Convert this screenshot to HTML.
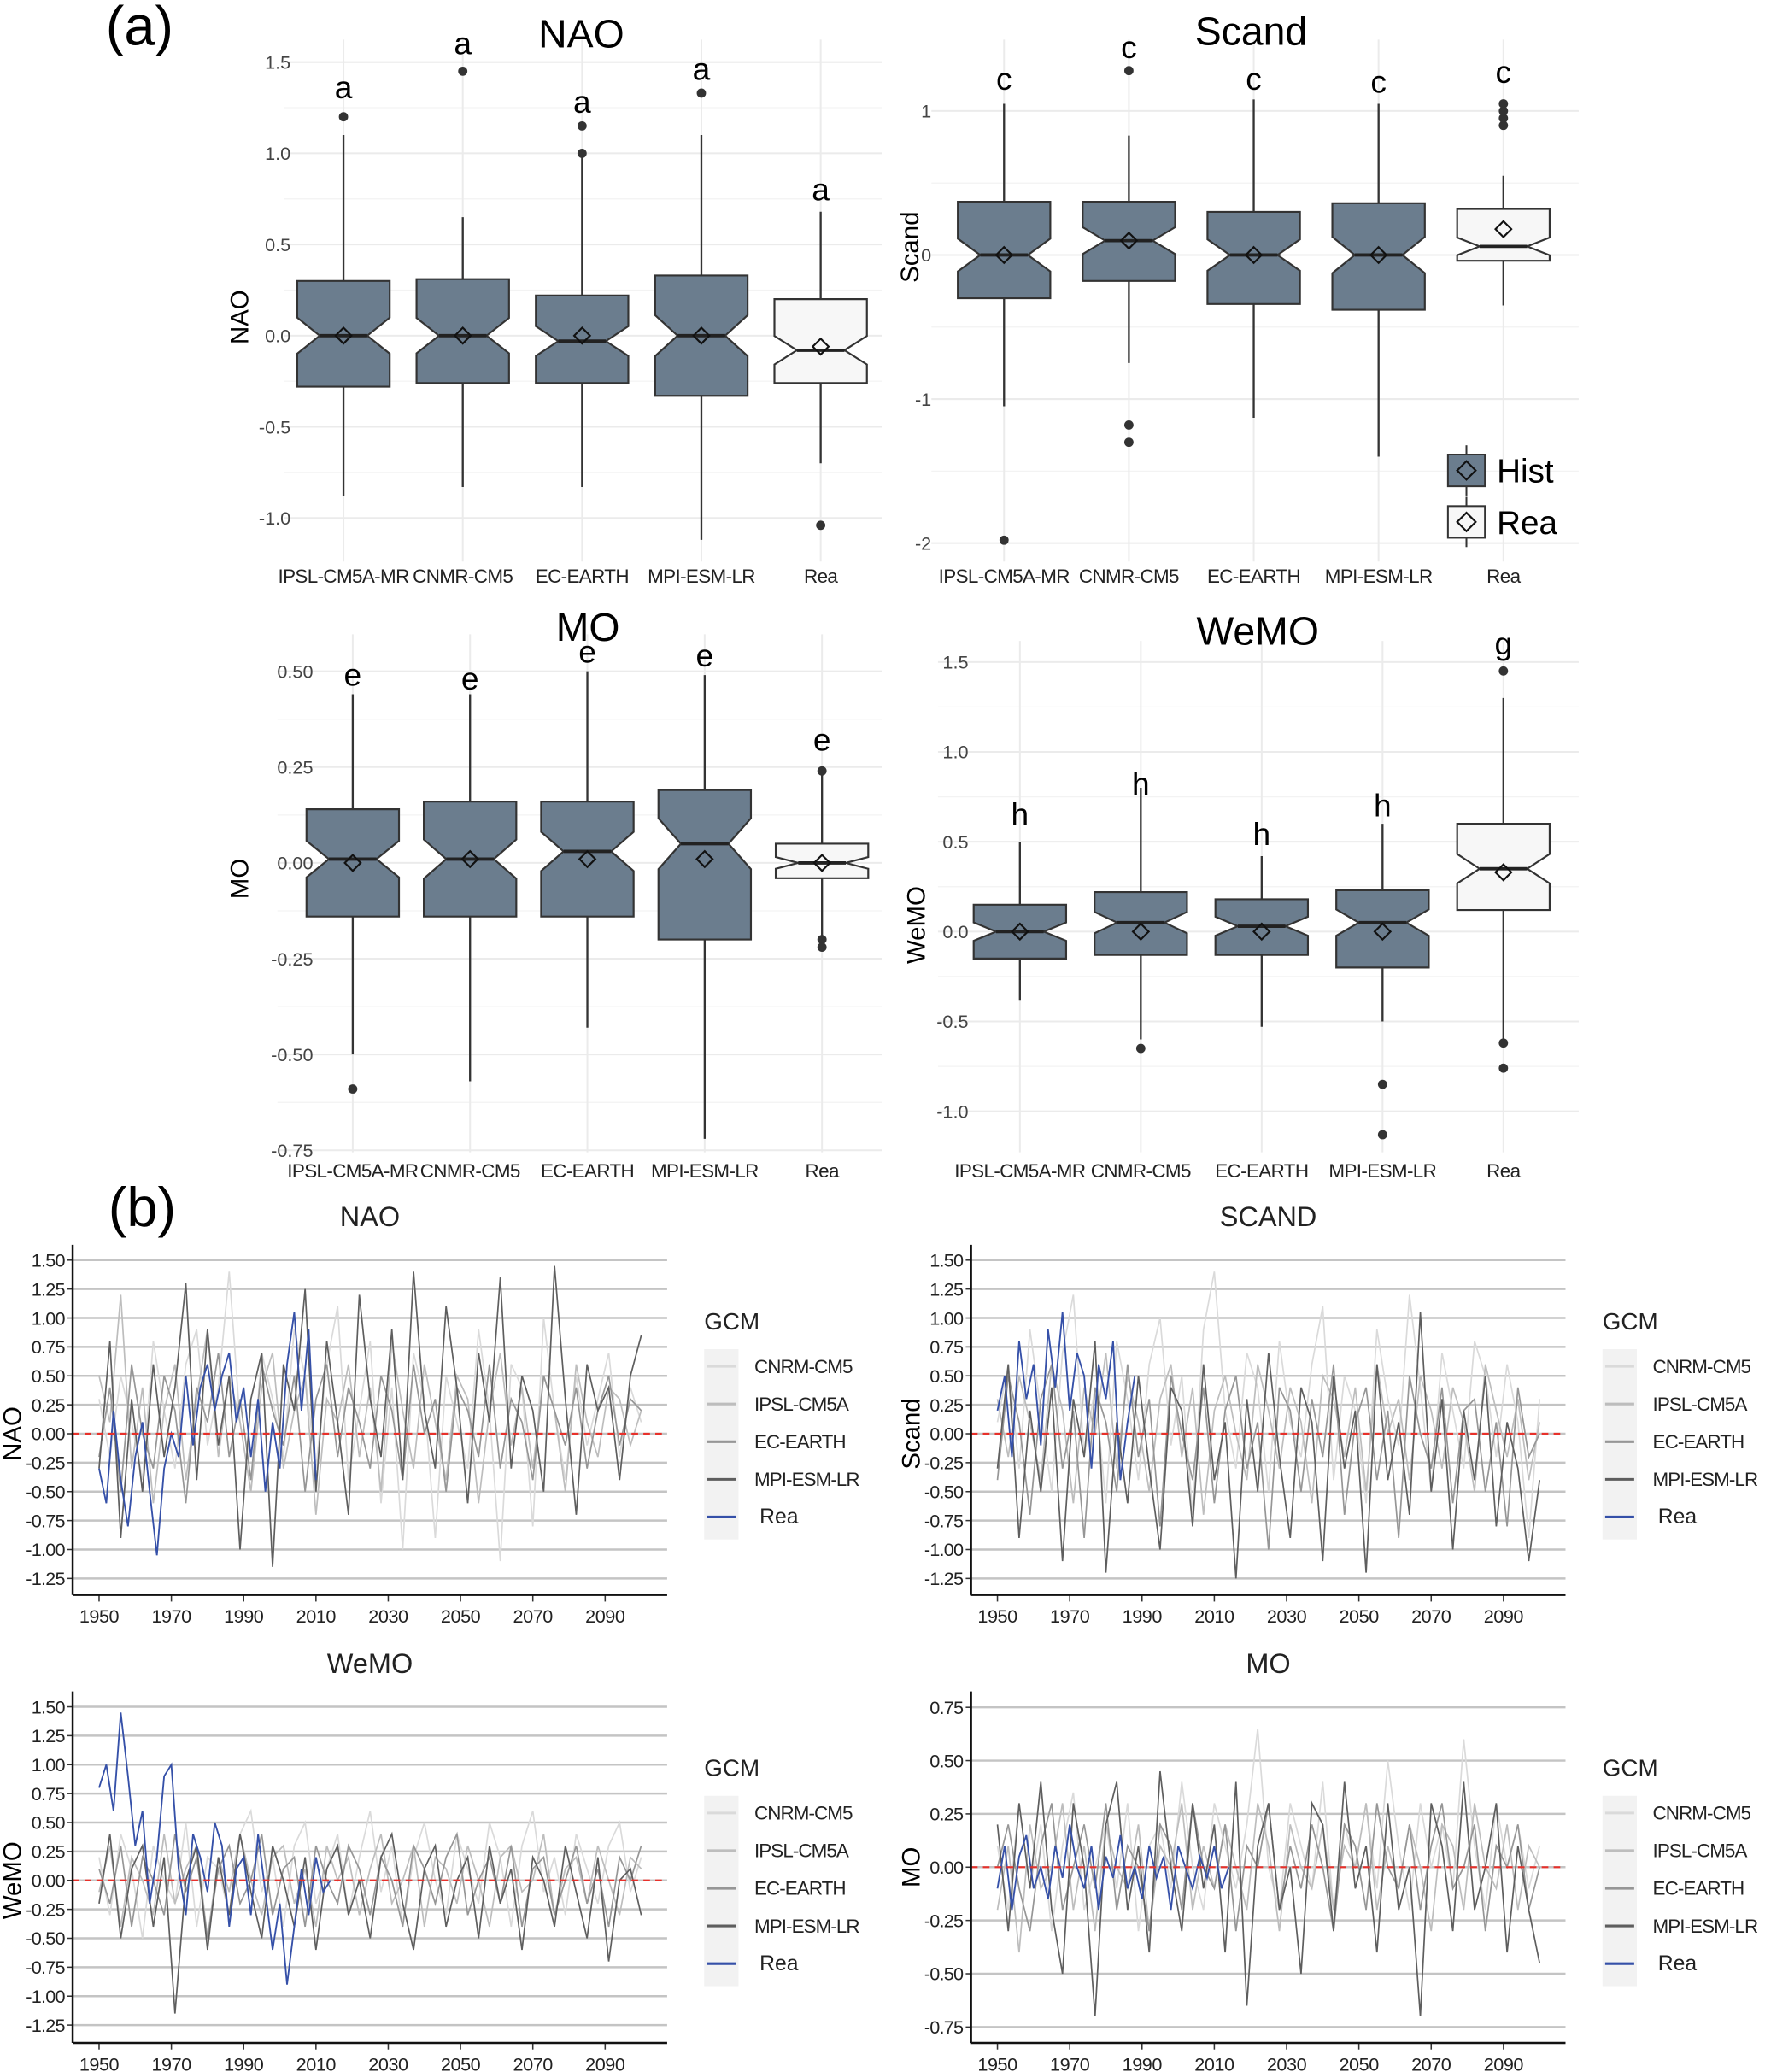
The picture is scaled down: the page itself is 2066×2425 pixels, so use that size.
<!DOCTYPE html>
<html><head><meta charset="utf-8"><style>
html,body{margin:0;padding:0;background:#fff;}
svg{display:block;font-family:"Liberation Sans",sans-serif;}
</style></head><body>
<svg id="fig" width="2066" height="2425" viewBox="0 0 1336 1568" preserveAspectRatio="none" xmlns="http://www.w3.org/2000/svg"></svg>
<script>
// ---------- Panel (a) box plot data ----------
const boxCats = ["IPSL-CM5A-MR","CNMR-CM5","EC-EARTH","MPI-ESM-LR","Rea"];
const naoLow=[-0.88,-0.83,-0.83,-1.12,-0.70], naoQ1=[-0.28,-0.26,-0.26,-0.33,-0.26], naoMed=[0.0,0.0,-0.03,0.0,-0.08], naoQ3=[0.30,0.31,0.22,0.33,0.20], naoHigh=[1.10,0.65,1.0,1.10,0.68], naoMean=[0,0,0,0,-0.06];
const naoOut=[[1.2],[1.45],[1.0,1.15],[1.33],[-1.04]], naoLetters=["a","a","a","a","a"], naoLetterV=[1.36,1.60,1.28,1.46,0.80];
const scLow=[-1.05,-0.75,-1.13,-1.40,-0.35], scQ1=[-0.30,-0.18,-0.34,-0.38,-0.04], scMed=[0.0,0.10,0.0,0.0,0.06], scQ3=[0.37,0.37,0.30,0.36,0.32], scHigh=[1.05,0.83,1.08,1.05,0.55], scMean=[0,0.1,0,0,0.18];
const scOut=[[-1.98],[1.28,-1.18,-1.30],[],[],[0.9,0.95,1.0,1.05]], scLetters=["c","c","c","c","c"], scLetterV=[1.22,1.44,1.22,1.20,1.27];
const moLow=[-0.50,-0.57,-0.43,-0.72,-0.20], moQ1=[-0.14,-0.14,-0.14,-0.20,-0.04], moMed=[0.01,0.01,0.03,0.05,0.0], moQ3=[0.14,0.16,0.16,0.19,0.05], moHigh=[0.44,0.44,0.50,0.49,0.24], moMean=[0.0,0.01,0.01,0.01,0.0];
const moOut=[[-0.59],[],[],[],[0.24,-0.20,-0.22]], moLetters=["e","e","e","e","e"], moLetterV=[0.49,0.48,0.55,0.54,0.32];
const weLow=[-0.38,-0.60,-0.53,-0.50,-0.60], weQ1=[-0.15,-0.13,-0.13,-0.20,0.12], weMed=[0.0,0.05,0.03,0.05,0.35], weQ3=[0.15,0.22,0.18,0.23,0.60], weHigh=[0.50,0.80,0.42,0.60,1.30], weMean=[0,0,0,0,0.33];
const weOut=[[],[-0.65],[],[-0.85,-1.13],[1.45,-0.62,-0.76]], weLetters=["h","h","h","h","g"], weLetterV=[0.65,0.82,0.54,0.70,1.60];
const naoTicks=[1.5,1.0,0.5,0.0,-0.5,-1.0], naoTickLab=["1.5","1.0","0.5","0.0","-0.5","-1.0"];
const scTicks=[1,0,-1,-2], scTickLab=["1","0","-1","-2"];
const moTicks=[0.5,0.25,0,-0.25,-0.5,-0.75], moTickLab=["0.50","0.25","0.00","-0.25","-0.50","-0.75"];
const weTicks=[1.5,1.0,0.5,0,-0.5,-1.0], weTickLab=["1.5","1.0","0.5","0.0","-0.5","-1.0"];

// ---------- Panel (b) time series data (every 3 years from 1950; Rea every 2 years) ----------
const tsLegend=["CNRM-CM5","IPSL-CM5A","EC-EARTH","MPI-ESM-LR","Rea"];
const yearTicks=[1950,1970,1990,2010,2030,2050,2070,2090];
const ts1Ticks=[1.5,1.25,1.0,0.75,0.5,0.25,0,-0.25,-0.5,-0.75,-1.0,-1.25];
const ts1TickLab=["1.50","1.25","1.00","0.75","0.50","0.25","0.00","-0.25","-0.50","-0.75","-1.00","-1.25"];
const moTsTicks=[0.75,0.5,0.25,0,-0.25,-0.5,-0.75];
const moTsTickLab=["0.75","0.50","0.25","0.00","-0.25","-0.50","-0.75"];
const naoCnrm=[0.3,-0.2,0.5,0.1,-0.4,0.8,0.2,-0.3,0.6,0.9,-0.1,0.4,1.4,0.1,-0.5,0.7,0.3,-0.2,0.9,0.5,-0.3,0.6,1.1,-0.4,0.2,0.8,-0.6,0.4,-1.0,0.7,0.3,-0.9,0.5,0.1,-0.3,0.9,0.2,-1.1,0.6,0.4,-0.8,1.0,0.2,-0.4,0.5,-0.1,0.3,0.7,-0.2,0.4,0.1];
const naoIpsl=[0.5,0.1,1.2,-0.3,0.4,-0.6,0.2,0.6,-0.4,0.3,0.9,-0.2,0.5,0.1,-0.5,0.4,0.7,-0.3,0.2,0.5,-0.7,0.3,0.1,0.6,-0.2,0.4,-0.5,0.8,0.2,-0.3,0.6,0.1,-0.4,0.5,0.3,-0.6,0.2,0.7,-0.1,0.4,-0.3,0.5,0.2,-0.5,0.6,0.1,-0.2,0.4,0.3,-0.1,0.2];
const naoEc=[-0.2,0.4,-0.5,0.6,0.0,-0.3,0.5,0.2,-0.6,0.4,0.1,0.7,-0.2,0.3,-0.4,0.6,0.2,-0.1,0.5,-0.5,0.3,0.6,-0.2,0.4,0.1,-0.3,0.5,0.2,-0.4,0.6,0.0,0.3,-0.5,0.4,0.2,-0.2,0.6,-0.3,0.3,0.1,-0.4,0.5,0.2,-0.1,0.4,-0.3,0.2,0.5,-0.1,0.3,0.2];
const naoMpi=[-0.3,0.8,-0.9,0.3,-0.5,0.6,-0.2,0.4,1.3,-0.4,0.9,-0.1,0.5,-1.0,0.3,0.7,-1.15,0.6,0.2,1.25,-0.5,0.8,0.1,-0.7,1.2,0.3,-0.2,0.9,-0.4,1.4,0.2,-0.3,1.1,0.4,-0.6,0.7,0.1,1.35,-0.3,0.5,0.2,-0.5,1.45,0.3,-0.7,0.6,0.2,0.4,-0.4,0.5,0.85];
const naoRea=[-0.3,-0.6,0.2,-0.4,-0.8,-0.2,0.1,-0.5,-1.05,-0.3,0.0,-0.2,0.5,-0.1,0.4,0.6,0.2,0.5,0.7,0.1,0.4,-0.2,0.3,-0.5,0.1,-0.3,0.6,1.05,0.2,0.9,-0.4];
const scCnrm=[0.1,0.6,-0.3,0.9,0.2,-0.5,0.7,1.2,-0.2,0.4,-0.6,0.8,0.3,-0.4,0.6,1.0,-0.1,0.5,-0.7,0.9,1.4,0.2,-0.3,0.7,0.4,-0.5,0.8,0.1,-0.2,0.6,1.1,-0.4,0.5,0.2,-0.6,0.9,0.3,-0.1,1.2,0.4,-0.5,0.7,0.2,-0.3,0.8,0.5,-0.2,0.6,0.1,-0.9,0.3];
const scIpsl=[0.3,-0.2,0.5,0.1,-0.4,0.6,0.2,-0.6,0.4,0.0,0.7,-0.3,0.5,0.1,-0.5,0.3,0.6,-0.2,0.4,-0.7,0.2,0.5,0.0,-0.4,0.6,0.2,-0.3,0.4,0.1,-0.6,0.5,0.3,-0.2,0.4,-0.5,0.6,0.0,0.3,-0.4,0.5,0.2,-0.3,0.4,0.1,-0.5,0.6,0.2,-0.2,0.3,-0.4,0.1];
const scEc=[-0.4,0.5,0.1,-0.7,0.3,0.6,-0.3,0.2,-0.9,0.4,0.1,-0.5,0.6,-0.2,0.3,-0.8,0.5,0.0,-0.4,0.4,-0.6,0.2,0.5,-0.3,0.1,-1.0,0.4,0.2,-0.5,0.3,-0.2,0.6,-0.7,0.1,0.4,-0.4,0.2,-0.9,0.5,0.0,-0.3,0.4,-0.6,0.2,0.3,-0.5,0.1,-0.8,0.4,-0.2,0.0];
const scMpi=[-0.3,0.6,-0.9,0.2,-0.5,0.4,-1.1,0.3,-0.2,0.8,-1.2,0.1,-0.6,0.5,-0.3,-1.0,0.4,0.2,-0.8,0.6,-0.4,0.1,-1.25,0.3,-0.5,0.7,-0.2,-0.9,0.4,0.1,-1.1,0.5,-0.3,0.2,-1.2,0.6,-0.4,0.1,-0.7,1.05,-0.5,0.3,-1.0,0.2,-0.4,0.5,-0.8,0.1,-0.3,-1.1,-0.4];
const scRea=[0.2,0.5,-0.2,0.8,0.3,0.6,-0.1,0.9,0.4,1.05,0.2,0.7,0.5,-0.3,0.6,0.3,0.8,-0.4,0.1,0.5];
const weCnrm=[0.2,-0.3,0.4,0.1,-0.5,0.3,0.0,-0.2,0.5,-0.4,0.2,0.1,-0.3,0.4,0.6,-0.1,0.2,-0.4,0.3,0.5,-0.2,0.1,0.4,-0.3,0.2,0.6,-0.1,0.3,-0.4,0.2,0.5,0.0,-0.3,0.4,0.1,-0.2,0.5,0.2,-0.4,0.3,0.6,-0.1,0.2,-0.3,0.4,0.1,-0.2,0.3,0.5,-0.1,0.2];
const weIpsl=[-0.1,0.3,-0.4,0.2,0.0,-0.3,0.4,-0.2,0.1,0.3,-0.5,0.2,-0.1,0.4,0.0,-0.3,0.2,0.3,-0.2,0.1,-0.4,0.3,0.0,0.2,-0.3,0.1,0.4,-0.2,0.0,0.3,-0.4,0.2,0.1,-0.2,0.3,0.0,-0.4,0.2,0.3,-0.1,0.0,0.4,-0.3,0.1,0.2,-0.2,0.3,0.0,-0.3,0.2,0.1];
const weEc=[0.1,-0.2,0.3,-0.4,0.2,0.0,-0.3,0.4,-0.1,0.2,-0.5,0.1,0.3,-0.2,0.0,0.4,-0.3,0.1,0.2,-0.4,0.3,0.0,-0.2,0.3,0.1,-0.3,0.2,0.0,-0.4,0.3,0.1,-0.2,0.2,0.4,-0.3,0.0,0.2,-0.2,0.3,-0.4,0.1,0.2,-0.3,0.0,0.3,-0.2,0.1,-0.4,0.2,0.0,0.3];
const weMpi=[-0.2,0.4,-0.5,0.1,0.3,-0.4,0.2,-1.15,0.0,0.3,-0.6,0.2,-0.3,0.4,-0.1,-0.5,0.3,0.0,-0.4,0.2,-0.6,0.1,0.3,-0.3,0.0,-0.5,0.2,0.4,-0.2,-0.6,0.1,0.3,-0.4,0.0,0.2,-0.5,0.3,-0.2,0.1,-0.6,0.2,0.0,-0.4,0.3,-0.1,-0.5,0.2,-0.7,0.0,0.1,-0.3];
const weRea=[0.8,1.0,0.6,1.45,0.9,0.3,0.6,-0.2,0.2,0.9,1.0,0.1,-0.3,0.4,0.2,-0.1,0.5,0.3,-0.4,0.1,0.2,-0.3,0.4,-0.1,-0.6,-0.2,-0.9,-0.4,0.1,-0.3,0.2,-0.1,0.0];
const moCnrm=[0.1,-0.2,0.3,-0.1,0.2,-0.3,0.1,0.35,-0.2,0.0,0.2,-0.1,0.3,-0.3,0.1,0.2,-0.1,0.4,0.0,-0.2,0.3,0.1,-0.1,0.2,0.65,0.0,-0.2,0.3,0.1,-0.1,0.4,-0.2,0.2,0.0,0.3,-0.1,0.5,0.1,-0.2,0.3,0.0,0.2,-0.1,0.6,0.1,-0.2,0.3,0.0,0.2,-0.1,0.1];
const moIpsl=[-0.2,0.1,-0.4,0.2,-0.1,0.0,0.3,-0.2,0.1,-0.3,0.2,0.0,-0.1,0.2,-0.3,0.1,0.0,0.3,-0.2,0.1,-0.1,0.2,0.0,-0.2,0.3,0.1,-0.3,0.2,0.0,-0.1,0.2,-0.2,0.1,0.0,0.3,-0.2,0.1,-0.1,0.2,0.0,-0.3,0.2,0.1,-0.2,0.3,0.0,-0.1,0.2,-0.2,0.1,0.0];
const moEc=[0.0,0.2,-0.1,-0.3,0.1,0.3,-0.2,0.0,0.2,-0.1,0.3,-0.2,0.1,0.0,-0.3,0.2,0.1,-0.2,0.3,0.0,-0.1,0.2,-0.3,0.1,0.0,0.3,-0.2,0.1,-0.1,0.2,0.0,-0.3,0.2,0.1,-0.2,0.3,0.0,-0.1,0.2,-0.2,0.1,0.3,-0.1,0.0,0.2,-0.3,0.1,0.0,0.2,-0.2,0.0];
const moMpi=[0.2,-0.3,0.3,-0.1,0.4,-0.2,-0.5,0.3,0.0,-0.7,0.2,0.4,-0.2,0.1,-0.4,0.45,0.0,-0.3,0.3,-0.1,0.2,-0.4,0.4,-0.65,0.1,0.3,-0.2,0.0,-0.5,0.3,0.2,-0.3,0.4,-0.1,0.1,-0.4,0.3,-0.2,0.0,-0.7,0.3,0.1,-0.3,0.4,-0.2,0.0,0.3,-0.4,0.1,-0.2,-0.45];
const moRea=[-0.1,0.1,-0.2,0.05,0.15,-0.1,0.0,-0.15,0.1,-0.05,0.2,0.0,-0.1,0.1,-0.2,0.05,-0.05,0.15,-0.1,0.0,-0.15,0.1,-0.05,0.05,-0.2,0.1,0.0,-0.1,0.05,-0.05,0.1,-0.1,0.0];

const NS="http://www.w3.org/2000/svg", svg=document.getElementById('fig');
function mk(tag,attrs,parent){const e=document.createElementNS(NS,tag);for(const k in attrs)e.setAttribute(k,attrs[k]);(parent||svg).appendChild(e);return e;}
function txt(s,attrs,parent){const e=mk('text',attrs,parent);e.textContent=s;return e;}

function boxPanel(name,c,d){
  const g=mk('g',{});
  
  
  const y=v=>c.y0px-(v-c.y0v)*c.k;
  const x=i=>c.xs+i*c.dx;
  c.ticks.forEach((t,i)=>{
    const gl=mk('line',{x1:c.gx0,x2:c.gx1,y1:y(t),y2:y(t),stroke:'#ebebeb','stroke-width':1.3},g);
    
    
    if(i<c.ticks.length-1){const m=(t+c.ticks[i+1])/2;mk('line',{x1:c.gx0,x2:c.gx1,y1:y(m),y2:y(m),stroke:'#f3f3f3','stroke-width':0.8},g);}
    const tl=txt(c.tickLab[i],{x:c.tlx,y:y(t)+5,'text-anchor':'end','font-size':14,fill:'#444'},g);
    
    
  });
  boxCats.forEach((cat,i)=>{mk('line',{x1:x(i),x2:x(i),y1:c.gy0,y2:c.gy1,stroke:'#ebebeb','stroke-width':1.3},g);});
  const title=txt(c.title,{x:c.titleX,y:c.titleY,'text-anchor':'middle','font-size':30},g);
  
  
  const at=txt(c.ytitle,{transform:`translate(${c.ytx},${c.yty}) rotate(-90)`,'text-anchor':'middle','font-size':19},g);
  
  
  boxCats.forEach((cat,i)=>{
    const cx=x(i),hw=35,nw=18;
    const bg=mk('g',{},g);
    
    
    mk('line',{x1:cx,x2:cx,y1:y(d.low[i]),y2:y(d.high[i]),stroke:'#333','stroke-width':1.5},bg);
    const iqr=d.q3[i]-d.q1[i], n=Math.min(iqr*0.17,(d.q3[i]-d.med[i])*0.95,(d.med[i]-d.q1[i])*0.95);
    const nu=y(d.med[i]+n), nl=y(d.med[i]-n), ym=y(d.med[i]);
    const pts=[[cx-hw,y(d.q3[i])],[cx+hw,y(d.q3[i])],[cx+hw,nu],[cx+nw,ym],[cx+hw,nl],[cx+hw,y(d.q1[i])],[cx-hw,y(d.q1[i])],[cx-hw,nl],[cx-nw,ym],[cx-hw,nu]];
    mk('polygon',{points:pts.map(p=>p.join(',')).join(' '),fill:i<4?'#6b7d8e':'#f7f7f7',stroke:'#333','stroke-width':1.4},bg);
    mk('line',{x1:cx-nw,x2:cx+nw,y1:ym,y2:ym,stroke:'#222','stroke-width':2.5},bg);
    const my=y(d.mean[i]);
    mk('polygon',{points:`${cx},${my-6} ${cx+6},${my} ${cx},${my+6} ${cx-6},${my}`,fill:'none',stroke:'#111','stroke-width':1.4},bg);
    d.out[i].forEach(o=>mk('circle',{cx:cx,cy:y(o),r:3.5,fill:'#333'},bg));
    const lt=txt(d.letters[i],{x:cx,y:y(d.letterV[i])+8,'text-anchor':'middle','font-size':24},bg);
    
    
    const cl=txt(cat,{x:cx,y:c.catY,'text-anchor':'middle','font-size':14.5,'letter-spacing':-0.4,fill:'#222'},bg);
    
    
  });
}
boxPanel('nao',{y0v:0,y0px:254,k:138,xs:260,dx:90.3,gx0:215,gx1:668,gy0:30,gy1:425,ticks:naoTicks,tickLab:naoTickLab,tlx:220,title:'NAO',titleX:440,titleY:36,ytitle:'NAO',ytx:188,yty:240,catY:441},
 {low:naoLow,q1:naoQ1,med:naoMed,q3:naoQ3,high:naoHigh,mean:naoMean,out:naoOut,letters:naoLetters,letterV:naoLetterV});
boxPanel('scand',{y0v:0,y0px:193,k:109,xs:760,dx:94.5,gx0:705,gx1:1195,gy0:30,gy1:425,ticks:scTicks,tickLab:scTickLab,tlx:705,title:'Scand',titleX:947,titleY:34,ytitle:'Scand',ytx:695,yty:187,catY:441},
 {low:scLow,q1:scQ1,med:scMed,q3:scQ3,high:scHigh,mean:scMean,out:scOut,letters:scLetters,letterV:scLetterV});
boxPanel('mo',{y0v:0,y0px:653,k:290,xs:267,dx:88.8,gx0:210,gx1:668,gy0:480,gy1:872,ticks:moTicks,tickLab:moTickLab,tlx:237,title:'MO',titleX:445,titleY:485,ytitle:'MO',ytx:188,yty:665,catY:891},
 {low:moLow,q1:moQ1,med:moMed,q3:moQ3,high:moHigh,mean:moMean,out:moOut,letters:moLetters,letterV:moLetterV});
boxPanel('wemo',{y0v:0,y0px:705,k:136,xs:772,dx:91.5,gx0:710,gx1:1195,gy0:485,gy1:872,ticks:weTicks,tickLab:weTickLab,tlx:733,title:'WeMO',titleX:952,titleY:488,ytitle:'WeMO',ytx:700,yty:700,catY:891},
 {low:weLow,q1:weQ1,med:weMed,q3:weQ3,high:weHigh,mean:weMean,out:weOut,letters:weLetters,letterV:weLetterV});

(function(){
  const g=mk('g',{});
  
  
  [['Hist','#6b7d8e',356],['Rea','#f7f7f7',395]].forEach(([l,f,yy])=>{
    mk('line',{x1:1110,x2:1110,y1:yy-19,y2:yy+19,stroke:'#333','stroke-width':1.3},g);
    mk('rect',{x:1096,y:yy-12,width:28,height:24,fill:f,stroke:'#333','stroke-width':1.3},g);
    mk('polygon',{points:`1110,${yy-7} 1117,${yy} 1110,${yy+7} 1103,${yy}`,fill:'none',stroke:'#111','stroke-width':1.4},g);
    const t=txt(l,{x:1133,y:yy+9,'font-size':25},g);
    
    
  });
})();
const la=txt('(a)',{x:80,y:34,'font-size':42});


const lb=txt('(b)',{x:82,y:928,'font-size':42});



const tsColors=['#dadada','#bdbdbd','#969696','#5e5e5e','#3550a8'];
function tsPanel(name,c,series,rea){
  const g=mk('g',{});
  
  
  const x=yr=>c.x1950+(yr-1950)*c.kx;
  const y=v=>c.y0px-v*c.k;
  c.ticks.forEach((t,i)=>{
    const gl=mk('line',{x1:c.px0,x2:c.px1,y1:y(t),y2:y(t),stroke:'#c4c4c4','stroke-width':1.6},g);
    
    
    mk('line',{x1:c.px0-4,x2:c.px0,y1:y(t),y2:y(t),stroke:'#333'},g);
    const tl=txt(c.tickLab[i],{x:c.px0-6,y:y(t)+5,'text-anchor':'end','font-size':14,'letter-spacing':-0.5,fill:'#222'},g);
    
    
  });
  yearTicks.forEach(yr=>{
    mk('line',{x1:x(yr),x2:x(yr),y1:c.py1,y2:c.py1+5,stroke:'#333'},g);
    const tl=txt(String(yr),{x:x(yr),y:c.py1+21,'text-anchor':'middle','font-size':14,'letter-spacing':-0.3,fill:'#222'},g);
    
    
  });
  series.forEach((s,si)=>{
    const p=mk('polyline',{points:s.map((v,i)=>x(1950+i*3)+','+y(v)).join(' '),fill:'none',stroke:tsColors[si],'stroke-width':1.1},g);
    
    
  });
  const rp=mk('polyline',{points:rea.map((v,i)=>x(1950+i*2)+','+y(v)).join(' '),fill:'none',stroke:tsColors[4],'stroke-width':1.2},g);
  
  
  const z=mk('line',{x1:c.px0,x2:c.px1,y1:y(0),y2:y(0),stroke:'#e8302a','stroke-width':1.4,'stroke-dasharray':'5,4'},g);
  
  
  mk('line',{x1:c.px0,x2:c.px0,y1:c.py0,y2:c.py1,stroke:'#111','stroke-width':1.6},g);
  mk('line',{x1:c.px0,x2:c.px1,y1:c.py1,y2:c.py1,stroke:'#111','stroke-width':1.6},g);
  const tt=txt(c.title,{x:(c.px0+c.px1)/2,y:c.py0-14,'text-anchor':'middle','font-size':21,fill:'#222'},g);
  
  
  const at=txt(c.ytitle,{transform:`translate(${c.px0-39},${y(0)}) rotate(-90)`,'text-anchor':'middle','font-size':19},g);
  
  
  const lg=mk('g',{},g);
  
  
  const lx=c.px1+28, ly=c.py0+70;
  txt('GCM',{x:lx,y:ly-6,'font-size':18,fill:'#222'},lg);
  mk('rect',{x:lx,y:ly+9,width:26,height:144,fill:'#f2f2f2'},lg);
  tsLegend.forEach((l,i)=>{
    const yy=ly+22+i*28.5;
    mk('line',{x1:lx+2,x2:lx+24,y1:yy,y2:yy,stroke:tsColors[i],'stroke-width':2},lg);
    const t=txt(l,{x:lx+(i==4?42:38),y:yy+5,'font-size':i==4?16:14.5,'letter-spacing':i==4?0:-0.6,fill:'#222'},lg);
    
    
  });
}
tsPanel('nao',{px0:55,px1:505,py0:942,py1:1207,x1950:75,kx:2.736,y0px:1085,k:87.6,ticks:ts1Ticks,tickLab:ts1TickLab,title:'NAO',ytitle:'NAO'},[naoCnrm,naoIpsl,naoEc,naoMpi],naoRea);
tsPanel('scand',{px0:735,px1:1185,py0:942,py1:1207,x1950:755,kx:2.736,y0px:1085,k:87.6,ticks:ts1Ticks,tickLab:ts1TickLab,title:'SCAND',ytitle:'Scand'},[scCnrm,scIpsl,scEc,scMpi],scRea);
tsPanel('wemo',{px0:55,px1:505,py0:1280,py1:1546,x1950:75,kx:2.736,y0px:1423,k:87.6,ticks:ts1Ticks,tickLab:ts1TickLab,title:'WeMO',ytitle:'WeMO'},[weCnrm,weIpsl,weEc,weMpi],weRea);
tsPanel('mo',{px0:735,px1:1185,py0:1280,py1:1546,x1950:755,kx:2.736,y0px:1413,k:161.3,ticks:moTsTicks,tickLab:moTsTickLab,title:'MO',ytitle:'MO'},[moCnrm,moIpsl,moEc,moMpi],moRea);
</script>
</body></html>
